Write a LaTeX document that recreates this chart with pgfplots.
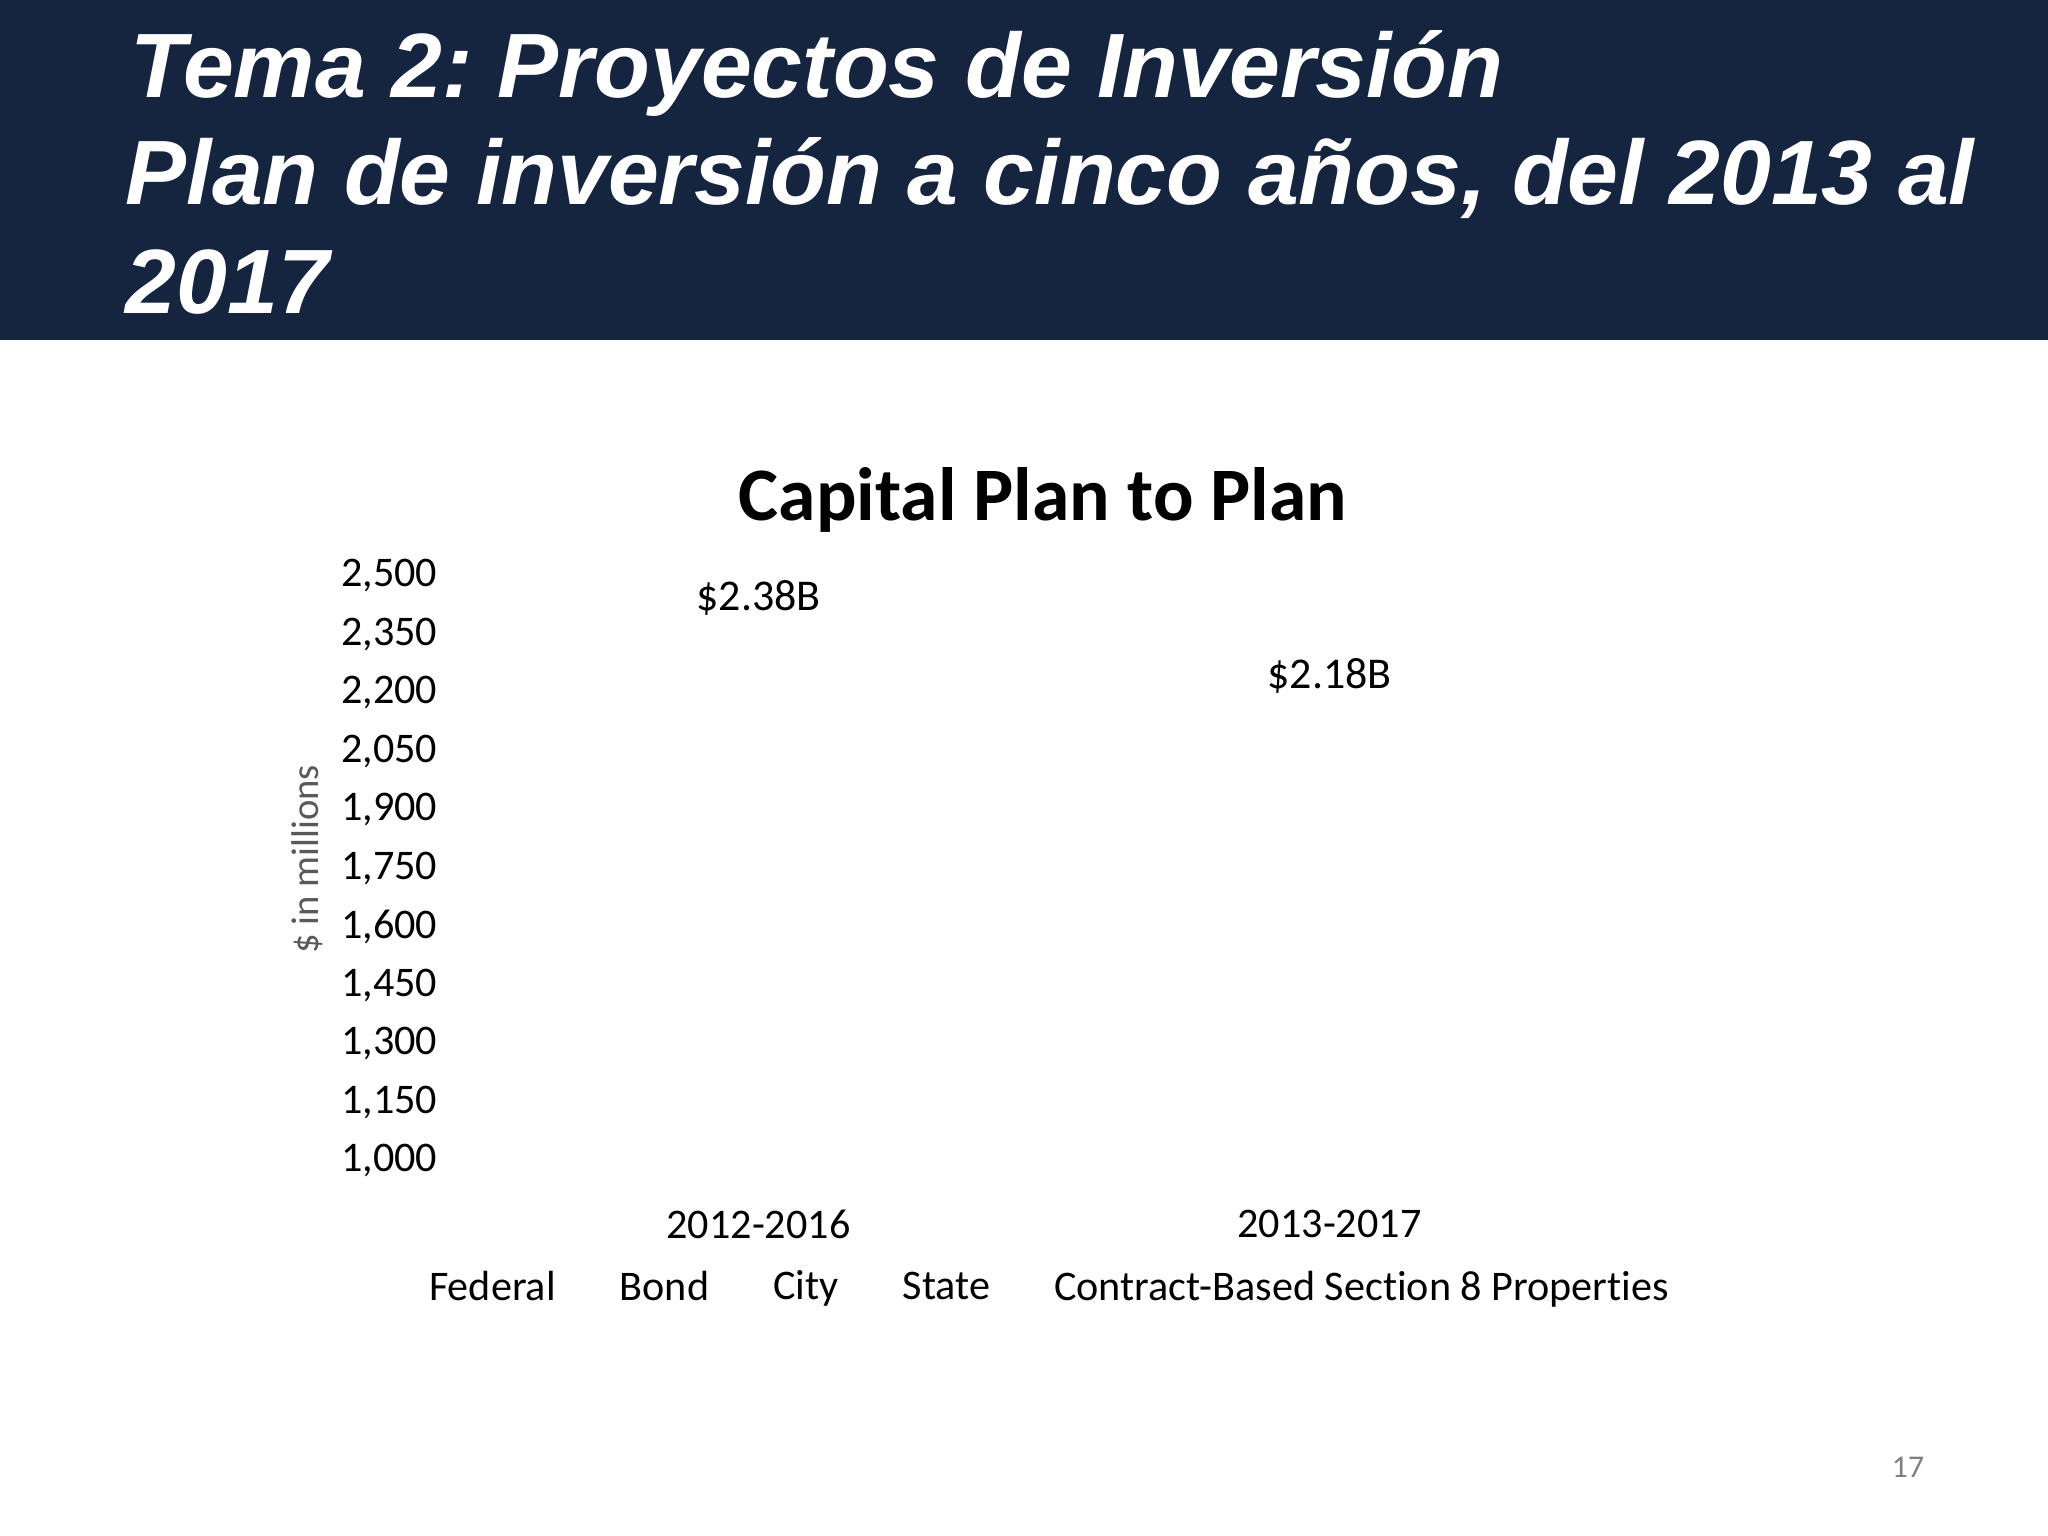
\documentclass[border=0pt]{standalone}
\usepackage{fontspec}
\setmainfont{Carlito}[Ligatures=NoCommon]
\newfontfamily\arialfont{Liberation Sans}
\usepackage{pgfplots}
\pgfplotsset{compat=1.18}
\definecolor{navy}{HTML}{15243F}
\definecolor{labgray}{HTML}{595959}
\definecolor{pggray}{HTML}{808080}
\frenchspacing

\begin{document}
\begin{tikzpicture}
\useasboundingbox (0,0) rectangle (20.48,-15.36);
\fill[white] (0,0) rectangle (20.48,-15.36);
\fill[navy] (0,0) rectangle (20.48,-3.40);

% slide heading
\begin{scope}[every node/.style={anchor=base west, inner sep=0pt, text=white,
    font=\arialfont\bfseries\itshape\fontsize{26}{30}\selectfont}]
\node at (1.30,-0.98) {Tema 2: Proyectos de Inversión};
\node at (1.25,-2.05) {Plan de inversión a cinco años, del 2013 al};
\node at (1.25,-3.14) {2017};
\end{scope}

\node[font=\bfseries\fontsize{21.5}{25}\selectfont] at (10.43,-5.00) {Capital Plan to Plan};
\node[text=pggray, font=\fontsize{9}{11}\selectfont] at (19.08,-14.67) {17};

\begin{axis}[
  at={(4.73cm,-11.61cm)}, anchor=south west,
  scale only axis, width=11.42cm, height=5.85cm,
  ybar, bar width=2.5cm, bar shift=0pt,
  xmin=-0.5, xmax=1.5, ymin=1000, ymax=2500,
  xtick={0,1}, xticklabels={2012-2016,2013-2017},
  ytick={1000,1150,...,2500},
  axis line style={draw=none}, major tick length=0pt,
  font=\fontsize{12}{14}\selectfont,
  /pgf/number format/assume math mode=true,
  /pgf/number format/.cd, fixed, 1000 sep={,}, /pgfplots/.cd,
  yticklabel style={anchor=east, inner sep=0pt, xshift=-0.35cm},
  xticklabel style={anchor=north, inner sep=0pt, yshift=-0.48cm},
  ylabel={\$ in millions},
  ylabel style={at={(axis description cs:-0.145,0.516)}, anchor=center, rotate=0,
    text=labgray, font=\fontsize{11}{13}\selectfont},
  nodes near coords={\$\pgfmathprintnumber[fixed,precision=2]{\pgfplotspointmeta}B},
  point meta=explicit,
  every node near coord/.append style={anchor=center, inner sep=0pt, yshift=0.25cm,
    font=\fontsize{12.5}{15}\selectfont},
  legend style={draw=none, fill=none, at={(0.5,0)}, anchor=center,
    xshift=0.05cm, yshift=-1.27cm, font=\fontsize{12}{14}\selectfont},
  legend columns=5,
  legend cell align=left,
  legend style={/tikz/every even column/.append style={column sep=0.50cm}},
]
\addlegendimage{empty legend}\addlegendentry{Federal}
\addlegendimage{empty legend}\addlegendentry{Bond}
\addlegendimage{empty legend}\addlegendentry{City}
\addlegendimage{empty legend}\addlegendentry{State}
\addlegendimage{empty legend}\addlegendentry{Contract-Based Section 8 Properties}
\addplot[draw=none, fill=none, forget plot] coordinates {(0,2380) [2.38] (1,2180) [2.18]};
\end{axis}
\end{tikzpicture}
\end{document}
